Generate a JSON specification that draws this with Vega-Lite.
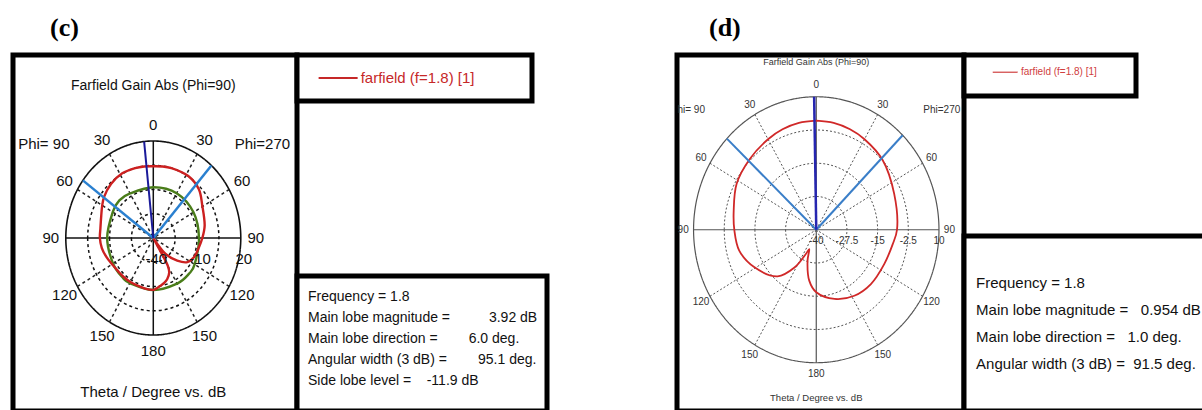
{
  "$schema": "https://vega.github.io/schema/vega-lite/v6.json",
  "background": "white",
  "padding": {"left": 10, "top": 12, "right": 0, "bottom": 0},
  "config": {
    "font": "Liberation Sans",
    "view": {"stroke": "black", "strokeWidth": 5, "fill": "white"}
  },
  "resolve": {"scale": {"size": "independent"}},
  "spacing": 124,
  "hconcat": [
    {
      "bounds": "flush",
      "spacing": 0,
      "hconcat": [
        {
          "width": 284,
          "height": 356,
          "title": {"text": "(c)", "anchor": "start", "dx": 37, "offset": 14, "fontSize": 26, "font": "Liberation Serif", "fontWeight": "bold", "color": "black"},
          "layer": [
            {
              "data": {"values": [{"ring": 1}, {"ring": 2}, {"ring": 3}, {"ring": 4}]},
              "mark": {"type": "point", "shape": "M-0.902,0A0.902,1,0,1,0,0.902,0A0.902,1,0,1,0,-0.902,0Z", "filled": false, "color": "#111", "opacity": 1},
              "encoding": {
                "x": {"datum": 0, "type": "quantitative", "scale": {"domain": [-1.602, 1.641], "nice": false, "zero": false}, "axis": null},
                "y": {"datum": 0, "type": "quantitative", "scale": {"domain": [-1.784, 1.887], "nice": false, "zero": false}, "axis": null},
                "size": {"field": "ring", "type": "quantitative", "scale": {"type": "pow", "exponent": 2, "domain": [0, 4], "range": [0, 37636]}, "legend": null},
                "strokeDash": {"condition": {"test": "datum.ring === 4", "value": [1, 0]}, "value": [3, 3]},
                "strokeWidth": {"condition": {"test": "datum.ring === 4", "value": 1.6}, "value": 1.5}
              }
            },
            {
              "data": {"values": [{"theta": 30}, {"theta": 60}, {"theta": 120}, {"theta": 150}, {"theta": 210}, {"theta": 240}, {"theta": 300}, {"theta": 330}]},
              "transform": [{"calculate": "-sin(datum.theta*PI/180)", "as": "u2"}, {"calculate": "cos(datum.theta*PI/180)", "as": "v2"}],
              "mark": {"type": "rule", "color": "#222", "strokeWidth": 1.5, "strokeDash": [3, 3]},
              "encoding": {"x": {"field": "u2", "type": "quantitative", "axis": null}, "y": {"field": "v2", "type": "quantitative", "axis": null}, "x2": {"datum": 0}, "y2": {"datum": 0}}
            },
            {
              "data": {"values": [{"theta": 0}, {"theta": 90}, {"theta": 180}, {"theta": 270}]},
              "transform": [{"calculate": "-sin(datum.theta*PI/180)", "as": "u2"}, {"calculate": "cos(datum.theta*PI/180)", "as": "v2"}],
              "mark": {"type": "rule", "color": "#111", "strokeWidth": 1.5},
              "encoding": {"x": {"field": "u2", "type": "quantitative", "axis": null}, "y": {"field": "v2", "type": "quantitative", "axis": null}, "x2": {"datum": 0}, "y2": {"datum": 0}}
            },
            {
              "data": {"values": [
                {"theta": 0, "gain": -8.6}, {"theta": 30, "gain": -8.2}, {"theta": 45, "gain": -7.1}, {"theta": 60, "gain": -7.9},
                {"theta": 90, "gain": -8.4}, {"theta": 120, "gain": -8.2}, {"theta": 140, "gain": -7.7}, {"theta": 150, "gain": -7.8},
                {"theta": 180, "gain": -7.8}, {"theta": 210, "gain": -7.4}, {"theta": 228, "gain": -7.0}, {"theta": 240, "gain": -7.3},
                {"theta": 270, "gain": -8.7}, {"theta": 300, "gain": -8.2}, {"theta": 330, "gain": -8.0}
              ]},
              "transform": [
                {"calculate": "-((datum.gain+40)/60)*sin(datum.theta*PI/180)", "as": "u"},
                {"calculate": "((datum.gain+40)/60)*cos(datum.theta*PI/180)", "as": "v"}
              ],
              "mark": {"type": "line", "color": "#4a7d1a", "strokeWidth": 2.4, "interpolate": "cardinal-closed"},
              "encoding": {"x": {"field": "u", "type": "quantitative", "axis": null}, "y": {"field": "v", "type": "quantitative", "axis": null}, "order": {"field": "theta"}}
            },
            {
              "data": {"values": [
                {"theta": 0, "gain": 4.4}, {"theta": 8, "gain": 4.7}, {"theta": 16, "gain": 5.0}, {"theta": 28, "gain": 5.3},
                {"theta": 41, "gain": 4.2}, {"theta": 53, "gain": 2.2}, {"theta": 60, "gain": 0.4}, {"theta": 69, "gain": -1.8},
                {"theta": 81, "gain": -3.3}, {"theta": 90, "gain": -3.4}, {"theta": 100, "gain": -4.2}, {"theta": 110, "gain": -5.8},
                {"theta": 120, "gain": -7.4}, {"theta": 130, "gain": -8.3}, {"theta": 140, "gain": -8.5}, {"theta": 150, "gain": -8.6},
                {"theta": 160, "gain": -8.6}, {"theta": 170, "gain": -8.2}, {"theta": 180, "gain": -7.9}, {"theta": 182.8, "gain": -8.4},
                {"theta": 189.6, "gain": -10.1}, {"theta": 195, "gain": -11.2}, {"theta": 200.7, "gain": -12.9}, {"theta": 207, "gain": -16},
                {"theta": 210, "gain": -20.2}, {"theta": 211, "gain": -28}, {"theta": 213, "gain": -40}, {"theta": 216, "gain": -37},
                {"theta": 217, "gain": -35.2}, {"theta": 220.5, "gain": -27}, {"theta": 229.5, "gain": -18.4}, {"theta": 237.3, "gain": -12.3},
                {"theta": 246.8, "gain": -9.7}, {"theta": 259.6, "gain": -8.2}, {"theta": 270, "gain": -6.4}, {"theta": 282.2, "gain": -4},
                {"theta": 300.7, "gain": -0.94}, {"theta": 314, "gain": 3.4}, {"theta": 328, "gain": 5.2}, {"theta": 344, "gain": 5.0},
                {"theta": 352, "gain": 4.7}, {"theta": 360, "gain": 4.4}
              ]},
              "transform": [
                {"calculate": "-((datum.gain+40)/60)*sin(datum.theta*PI/180)", "as": "u"},
                {"calculate": "((datum.gain+40)/60)*cos(datum.theta*PI/180)", "as": "v"}
              ],
              "mark": {"type": "line", "color": "#cc2020", "strokeWidth": 2.4, "interpolate": "catmull-rom"},
              "encoding": {"x": {"field": "u", "type": "quantitative", "axis": null}, "y": {"field": "v", "type": "quantitative", "axis": null}, "order": {"field": "theta"}}
            },
            {
              "data": {"values": [{"theta": 53.55}, {"theta": 318.45}]},
              "transform": [{"calculate": "-sin(datum.theta*PI/180)", "as": "u2"}, {"calculate": "cos(datum.theta*PI/180)", "as": "v2"}],
              "mark": {"type": "rule", "color": "#2a80d0", "strokeWidth": 2.5},
              "encoding": {"x": {"field": "u2", "type": "quantitative", "axis": null}, "y": {"field": "v2", "type": "quantitative", "axis": null}, "x2": {"datum": 0}, "y2": {"datum": 0}}
            },
            {
              "data": {"values": [{"theta": 6}]},
              "transform": [{"calculate": "-sin(datum.theta*PI/180)", "as": "u2"}, {"calculate": "cos(datum.theta*PI/180)", "as": "v2"}],
              "mark": {"type": "rule", "color": "#1a1a9a", "strokeWidth": 2},
              "encoding": {"x": {"field": "u2", "type": "quantitative", "axis": null}, "y": {"field": "v2", "type": "quantitative", "axis": null}, "x2": {"datum": 0}, "y2": {"datum": 0}}
            },
            {
              "data": {"values": [
                {"theta": 0, "label": "0"}, {"theta": 30, "label": "30"}, {"theta": 60, "label": "60"}, {"theta": 90, "label": "90"},
                {"theta": 120, "label": "120"}, {"theta": 150, "label": "150"}, {"theta": 180, "label": "180"}, {"theta": 210, "label": "150"},
                {"theta": 240, "label": "120"}, {"theta": 270, "label": "90"}, {"theta": 300, "label": "60"}, {"theta": 330, "label": "30"}
              ]},
              "transform": [{"calculate": "-1.17*sin(datum.theta*PI/180)", "as": "u"}, {"calculate": "1.17*cos(datum.theta*PI/180)", "as": "v"}],
              "mark": {"type": "text", "fontSize": 15, "color": "#111", "align": "center", "baseline": "middle"},
              "encoding": {"x": {"field": "u", "type": "quantitative", "axis": null}, "y": {"field": "v", "type": "quantitative", "axis": null}, "text": {"field": "label"}}
            },
            {
              "data": {"values": [{"gain": -40, "label": "-40"}, {"gain": -10, "label": "-10"}, {"gain": 20, "label": "20"}]},
              "transform": [{"calculate": "(datum.gain+40)/60", "as": "u"}],
              "mark": {"type": "text", "fontSize": 15, "color": "#111", "align": "center", "baseline": "middle", "dy": 21, "dx": 3},
              "encoding": {"x": {"field": "u", "type": "quantitative", "axis": null}, "y": {"datum": 0, "type": "quantitative", "axis": null}, "text": {"field": "label"}}
            },
            {
              "data": {"values": [{"t": "Farfield Gain Abs (Phi=90)"}]},
              "mark": {"type": "text", "fontSize": 14, "color": "#111", "align": "center", "baseline": "middle"},
              "encoding": {"x": {"datum": 0, "type": "quantitative", "axis": null}, "y": {"datum": 1.57, "type": "quantitative", "axis": null}, "text": {"field": "t"}}
            },
            {
              "data": {"values": [{"t": "Theta / Degree vs. dB"}]},
              "mark": {"type": "text", "fontSize": 15, "color": "#111", "align": "center", "baseline": "middle"},
              "encoding": {"x": {"datum": 0, "type": "quantitative", "axis": null}, "y": {"datum": -1.59, "type": "quantitative", "axis": null}, "text": {"field": "t"}}
            },
            {
              "data": {"values": [{"t": "Phi= 90"}]},
              "mark": {"type": "text", "fontSize": 15, "color": "#111", "align": "center", "baseline": "middle"},
              "encoding": {"x": {"datum": -1.25, "type": "quantitative", "axis": null}, "y": {"datum": 0.97, "type": "quantitative", "axis": null}, "text": {"field": "t"}}
            },
            {
              "data": {"values": [{"t": "Phi=270"}]},
              "mark": {"type": "text", "fontSize": 15, "color": "#111", "align": "center", "baseline": "middle"},
              "encoding": {"x": {"datum": 1.246, "type": "quantitative", "axis": null}, "y": {"datum": 0.97, "type": "quantitative", "axis": null}, "text": {"field": "t"}}
            }
          ]
        },
        {
          "bounds": "flush",
          "spacing": 175,
          "vconcat": [
            {
              "width": 235,
              "height": 46,
              "data": {"values": [{"label": "farfield (f=1.8) [1]"}]},
              "layer": [
                {
                  "mark": {"type": "rule", "color": "#c62828", "strokeWidth": 2},
                  "encoding": {
                    "x": {"datum": 0.092, "type": "quantitative", "scale": {"domain": [0, 1], "nice": false}, "axis": null},
                    "x2": {"datum": 0.258},
                    "y": {"datum": 0.5, "type": "quantitative", "scale": {"domain": [0, 1], "nice": false}, "axis": null}
                  }
                },
                {
                  "mark": {"type": "text", "fontSize": 15, "color": "#c62828", "align": "left", "baseline": "middle"},
                  "encoding": {
                    "x": {"datum": 0.271, "type": "quantitative", "axis": null},
                    "y": {"datum": 0.5, "type": "quantitative", "axis": null},
                    "text": {"field": "label"}
                  }
                }
              ]
            },
            {
              "width": 250,
              "height": 135,
              "data": {"values": [
                {"line": 1, "text": "Frequency = 1.8"},
                {"line": 2, "text": "Main lobe magnitude =\u00a0\u00a0\u00a0\u00a0\u00a0\u00a0\u00a0\u00a0\u00a0\u00a03.92 dB"},
                {"line": 3, "text": "Main lobe direction =\u00a0\u00a0\u00a0\u00a0\u00a0\u00a0\u00a0\u00a06.0 deg."},
                {"line": 4, "text": "Angular width (3 dB) =\u00a0\u00a0\u00a0\u00a0\u00a0\u00a0\u00a0\u00a095.1 deg."},
                {"line": 5, "text": "Side lobe level =\u00a0\u00a0\u00a0\u00a0-11.9 dB"}
              ]},
              "mark": {"type": "text", "fontSize": 14, "color": "#111", "align": "left", "baseline": "middle"},
              "encoding": {
                "x": {"datum": 0.044, "type": "quantitative", "scale": {"domain": [0, 1], "nice": false}, "axis": null},
                "y": {"field": "line", "type": "quantitative", "scale": {"domain": [0, 6.43], "reverse": true, "nice": false, "zero": false}, "axis": null},
                "text": {"field": "text"}
              }
            }
          ]
        }
      ]
    },
    {
      "bounds": "flush",
      "spacing": 0,
      "hconcat": [
        {
          "width": 287,
          "height": 356,
          "title": {"text": "(d)", "anchor": "start", "dx": 32, "offset": 14, "fontSize": 26, "font": "Liberation Serif", "fontWeight": "bold", "color": "black"},
          "layer": [
            {
              "data": {"values": [{"ring": 1}, {"ring": 2}, {"ring": 3}, {"ring": 4}]},
              "mark": {"type": "point", "shape": "M-0.9226,0A0.9226,1,0,1,0,0.9226,0A0.9226,1,0,1,0,-0.9226,0Z", "filled": false, "color": "#555", "opacity": 1},
              "encoding": {
                "x": {"datum": 0, "type": "quantitative", "scale": {"domain": [-1.135, 1.204], "nice": false, "zero": false}, "axis": null},
                "y": {"datum": 0, "type": "quantitative", "scale": {"domain": [-1.363, 1.314], "nice": false, "zero": false}, "axis": null},
                "size": {"field": "ring", "type": "quantitative", "scale": {"type": "pow", "exponent": 2, "domain": [0, 4], "range": [0, 70756]}, "legend": null},
                "strokeDash": {"condition": {"test": "datum.ring === 4", "value": [1, 0]}, "value": [2, 2]},
                "strokeWidth": {"condition": {"test": "datum.ring === 4", "value": 1.2}, "value": 1}
              }
            },
            {
              "data": {"values": [{"theta": 30}, {"theta": 60}, {"theta": 120}, {"theta": 150}, {"theta": 210}, {"theta": 240}, {"theta": 300}, {"theta": 330}]},
              "transform": [{"calculate": "-sin(datum.theta*PI/180)", "as": "u2"}, {"calculate": "cos(datum.theta*PI/180)", "as": "v2"}],
              "mark": {"type": "rule", "color": "#555", "strokeWidth": 1, "strokeDash": [2, 2]},
              "encoding": {"x": {"field": "u2", "type": "quantitative", "axis": null}, "y": {"field": "v2", "type": "quantitative", "axis": null}, "x2": {"datum": 0}, "y2": {"datum": 0}}
            },
            {
              "data": {"values": [{"theta": 0}, {"theta": 90}, {"theta": 180}, {"theta": 270}]},
              "transform": [{"calculate": "-sin(datum.theta*PI/180)", "as": "u2"}, {"calculate": "cos(datum.theta*PI/180)", "as": "v2"}],
              "mark": {"type": "rule", "color": "#555", "strokeWidth": 1.2},
              "encoding": {"x": {"field": "u2", "type": "quantitative", "axis": null}, "y": {"field": "v2", "type": "quantitative", "axis": null}, "x2": {"datum": 0}, "y2": {"datum": 0}}
            },
            {
              "data": {"values": [
                {"theta": 0, "gain": 1.0}, {"theta": 10, "gain": 0.8}, {"theta": 20, "gain": 0.2}, {"theta": 30, "gain": -0.7},
                {"theta": 45.7, "gain": -2.05}, {"theta": 62, "gain": -3.25}, {"theta": 78, "gain": -5.6}, {"theta": 90, "gain": -6.6},
                {"theta": 104, "gain": -7.65}, {"theta": 119, "gain": -11.05}, {"theta": 138, "gain": -16.45}, {"theta": 148, "gain": -23.25},
                {"theta": 155, "gain": -29.95}, {"theta": 158.5, "gain": -32.2}, {"theta": 163, "gain": -27.85}, {"theta": 171.5, "gain": -20.65},
                {"theta": 180, "gain": -16.5}, {"theta": 196, "gain": -12.95}, {"theta": 212, "gain": -10.75}, {"theta": 227.5, "gain": -9.8},
                {"theta": 245, "gain": -9.45}, {"theta": 260, "gain": -8.4}, {"theta": 270, "gain": -7.1}, {"theta": 293, "gain": -5.5},
                {"theta": 314, "gain": -2.35}, {"theta": 330, "gain": -0.7}, {"theta": 340, "gain": 0.2}, {"theta": 350, "gain": 0.8},
                {"theta": 360, "gain": 1.0}
              ]},
              "transform": [
                {"calculate": "-((datum.gain+40)/50)*sin(datum.theta*PI/180)", "as": "u"},
                {"calculate": "((datum.gain+40)/50)*cos(datum.theta*PI/180)", "as": "v"}
              ],
              "mark": {"type": "line", "color": "#d02828", "strokeWidth": 1.8, "interpolate": "catmull-rom"},
              "encoding": {"x": {"field": "u", "type": "quantitative", "axis": null}, "y": {"field": "v", "type": "quantitative", "axis": null}, "order": {"field": "theta"}}
            },
            {
              "data": {"values": [{"theta": 46.75}, {"theta": 315.25}]},
              "transform": [{"calculate": "-sin(datum.theta*PI/180)", "as": "u2"}, {"calculate": "cos(datum.theta*PI/180)", "as": "v2"}],
              "mark": {"type": "rule", "color": "#3a7ec8", "strokeWidth": 2},
              "encoding": {"x": {"field": "u2", "type": "quantitative", "axis": null}, "y": {"field": "v2", "type": "quantitative", "axis": null}, "x2": {"datum": 0}, "y2": {"datum": 0}}
            },
            {
              "data": {"values": [{"theta": 1}]},
              "transform": [{"calculate": "-sin(datum.theta*PI/180)", "as": "u2"}, {"calculate": "cos(datum.theta*PI/180)", "as": "v2"}],
              "mark": {"type": "rule", "color": "#2626b0", "strokeWidth": 2.5},
              "encoding": {"x": {"field": "u2", "type": "quantitative", "axis": null}, "y": {"field": "v2", "type": "quantitative", "axis": null}, "x2": {"datum": 0}, "y2": {"datum": 0}}
            },
            {
              "data": {"values": [
                {"theta": 0, "label": "0"}, {"theta": 30, "label": "30"}, {"theta": 60, "label": "60"}, {"theta": 90, "label": "90"},
                {"theta": 120, "label": "120"}, {"theta": 150, "label": "150"}, {"theta": 180, "label": "180"}, {"theta": 210, "label": "150"},
                {"theta": 240, "label": "120"}, {"theta": 270, "label": "90"}, {"theta": 300, "label": "60"}, {"theta": 330, "label": "30"}
              ]},
              "transform": [{"calculate": "-1.085*sin(datum.theta*PI/180)", "as": "u"}, {"calculate": "1.085*cos(datum.theta*PI/180)", "as": "v"}],
              "mark": {"type": "text", "fontSize": 10, "color": "#333", "align": "center", "baseline": "middle", "clip": true},
              "encoding": {"x": {"field": "u", "type": "quantitative", "axis": null}, "y": {"field": "v", "type": "quantitative", "axis": null}, "text": {"field": "label"}}
            },
            {
              "data": {"values": [{"gain": -40, "label": "-40"}, {"gain": -27.5, "label": "-27.5"}, {"gain": -15, "label": "-15"}, {"gain": -2.5, "label": "-2.5"}, {"gain": 10, "label": "10"}]},
              "transform": [{"calculate": "(datum.gain+40)/50", "as": "u"}],
              "mark": {"type": "text", "fontSize": 10, "color": "#333", "align": "center", "baseline": "middle", "dy": 11},
              "encoding": {"x": {"field": "u", "type": "quantitative", "axis": null}, "y": {"datum": 0, "type": "quantitative", "axis": null}, "text": {"field": "label"}}
            },
            {
              "data": {"values": [{"t": "Farfield Gain Abs (Phi=90)"}]},
              "mark": {"type": "text", "fontSize": 9, "color": "#333", "align": "center", "baseline": "middle"},
              "encoding": {"x": {"datum": 0, "type": "quantitative", "axis": null}, "y": {"datum": 1.259, "type": "quantitative", "axis": null}, "text": {"field": "t"}}
            },
            {
              "data": {"values": [{"t": "Theta / Degree vs. dB"}]},
              "mark": {"type": "text", "fontSize": 9.5, "color": "#333", "align": "center", "baseline": "middle"},
              "encoding": {"x": {"datum": 0, "type": "quantitative", "axis": null}, "y": {"datum": -1.265, "type": "quantitative", "axis": null}, "text": {"field": "t"}}
            },
            {
              "data": {"values": [{"t": "Phi= 90"}]},
              "mark": {"type": "text", "fontSize": 10, "color": "#333", "align": "right", "baseline": "middle", "clip": true},
              "encoding": {"x": {"datum": -0.907, "type": "quantitative", "axis": null}, "y": {"datum": 0.902, "type": "quantitative", "axis": null}, "text": {"field": "t"}}
            },
            {
              "data": {"values": [{"t": "Phi=270"}]},
              "mark": {"type": "text", "fontSize": 10, "color": "#333", "align": "center", "baseline": "middle"},
              "encoding": {"x": {"datum": 1.023, "type": "quantitative", "axis": null}, "y": {"datum": 0.902, "type": "quantitative", "axis": null}, "text": {"field": "t"}}
            }
          ]
        },
        {
          "bounds": "flush",
          "spacing": 140,
          "vconcat": [
            {
              "width": 172,
              "height": 41,
              "data": {"values": [{"label": "farfield (f=1.8) [1]"}]},
              "layer": [
                {
                  "mark": {"type": "rule", "color": "#d04040", "strokeWidth": 1.2},
                  "encoding": {
                    "x": {"datum": 0.167, "type": "quantitative", "scale": {"domain": [0, 1], "nice": false}, "axis": null},
                    "x2": {"datum": 0.312},
                    "y": {"datum": 0.58, "type": "quantitative", "scale": {"domain": [0, 1], "nice": false}, "axis": null}
                  }
                },
                {
                  "mark": {"type": "text", "fontSize": 10, "color": "#d04040", "align": "left", "baseline": "middle"},
                  "encoding": {
                    "x": {"datum": 0.331, "type": "quantitative", "axis": null},
                    "y": {"datum": 0.58, "type": "quantitative", "axis": null},
                    "text": {"field": "label"}
                  }
                }
              ]
            },
            {
              "width": 242,
              "height": 175,
              "data": {"values": [
                {"line": 1, "text": "Frequency = 1.8"},
                {"line": 2, "text": "Main lobe magnitude =\u00a0\u00a0\u00a00.954 dB"},
                {"line": 3, "text": "Main lobe direction =\u00a0\u00a0\u00a01.0 deg."},
                {"line": 4, "text": "Angular width (3 dB) =\u00a0\u00a091.5 deg."}
              ]},
              "mark": {"type": "text", "fontSize": 15, "color": "#111", "align": "left", "baseline": "middle"},
              "encoding": {
                "x": {"datum": 0.05, "type": "quantitative", "scale": {"domain": [0, 1], "nice": false}, "axis": null},
                "y": {"field": "line", "type": "quantitative", "scale": {"domain": [-0.74, 5.74], "reverse": true, "nice": false, "zero": false}, "axis": null},
                "text": {"field": "text"}
              }
            }
          ]
        }
      ]
    }
  ]
}
